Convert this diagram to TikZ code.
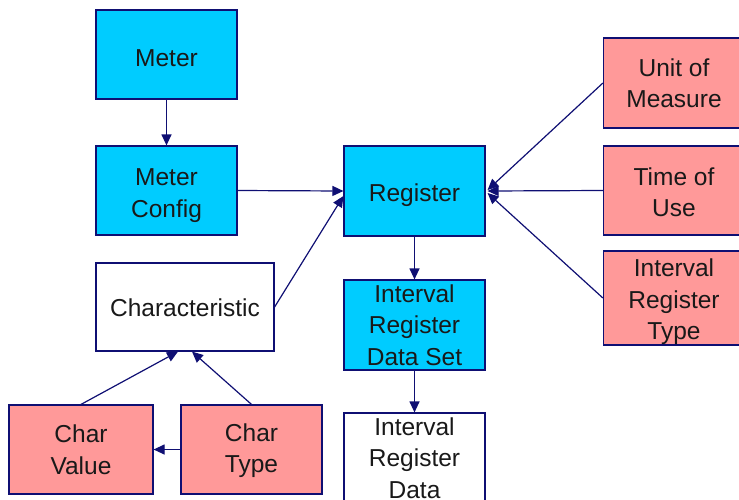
\documentclass[tikz,border=0pt]{standalone}
\usepackage{fontspec}
\setmainfont{Liberation Sans}
\usetikzlibrary{arrows.meta}
\definecolor{boxcyan}{RGB}{0,204,255}
\definecolor{boxpink}{RGB}{255,153,153}
\definecolor{navyline}{RGB}{15,15,115}
\newcommand{\tdown}[1]{\rule{0pt}{\dimexpr 17.9pt+#1\relax}}
\tikzset{
  box/.style={draw=navyline, line width=1.2pt, minimum width=141pt, minimum height=89pt,
    inner sep=0pt, align=center, font=\fontsize{24.5}{31.5}\selectfont, text=black!90},
  cyanbox/.style={box, fill=boxcyan},
  pinkbox/.style={box, fill=boxpink},
  whitebox/.style={box, fill=white},
  conn/.style={draw=navyline, line width=1.2pt, -{Triangle[length=11pt,width=10pt]}}
}
\begin{document}
\begin{tikzpicture}[x=1pt,y=-1pt]
\useasboundingbox (0,0) rectangle (739,499);
\clip (0,0) rectangle (739,499);
\node[cyanbox] (meter) at (166.5,54.5) {\tdown{6pt}Meter};
\node[cyanbox] (mconf) at (166.5,190.5) {\tdown{9pt}Meter\\Config};
\node[cyanbox, minimum height=90pt] (reg) at (414.5,191) {\tdown{8pt}Register};
\node[cyanbox, minimum height=90pt] (irds) at (414.5,325) {Interval\\Register\\Data Set};
\node[whitebox, minimum height=90pt] (ird) at (414.5,458) {Interval\\Register\\Data};
\node[whitebox, minimum width=178pt, minimum height=88pt] (char) at (185,307) {\tdown{2pt}Characteristic};
\node[pinkbox, minimum width=144pt] (cval) at (81,449.5) {Char\\Value};
\node[pinkbox] (ctype) at (251.5,449.5) {\tdown{2pt}Char\\Type};
\node[pinkbox, minimum height=90pt] (uom) at (674,83) {Unit of\\Measure};
\node[pinkbox] (tou) at (674,190.5) {\tdown{3pt}Time of\\Use};
\node[pinkbox, minimum height=90pt] (irt) at (674,298) {\tdown{8pt}Interval\\Register\\Type};
\draw[conn] (meter.south) -- (mconf.north);
\draw[conn] (mconf.east) -- (reg.west);
\draw[conn] (char.east) -- ([yshift=-5pt]reg.west);
\draw[conn] (reg.south) -- (irds.north);
\draw[conn] (irds.south) -- (ird.north);
\draw[conn] (uom.west) -- ([xshift=2pt,yshift=1pt]reg.east);
\draw[conn] (tou.west) -- ([xshift=2pt]reg.east);
\draw[conn] (irt.west) -- ([xshift=2pt,yshift=-2pt]reg.east);
\draw[conn] (cval.north) -- ([xshift=-7pt]char.south);
\draw[conn] (ctype.north) -- ([xshift=7pt]char.south);
\draw[conn] (ctype.west) -- (cval.east);
\end{tikzpicture}
\end{document}
